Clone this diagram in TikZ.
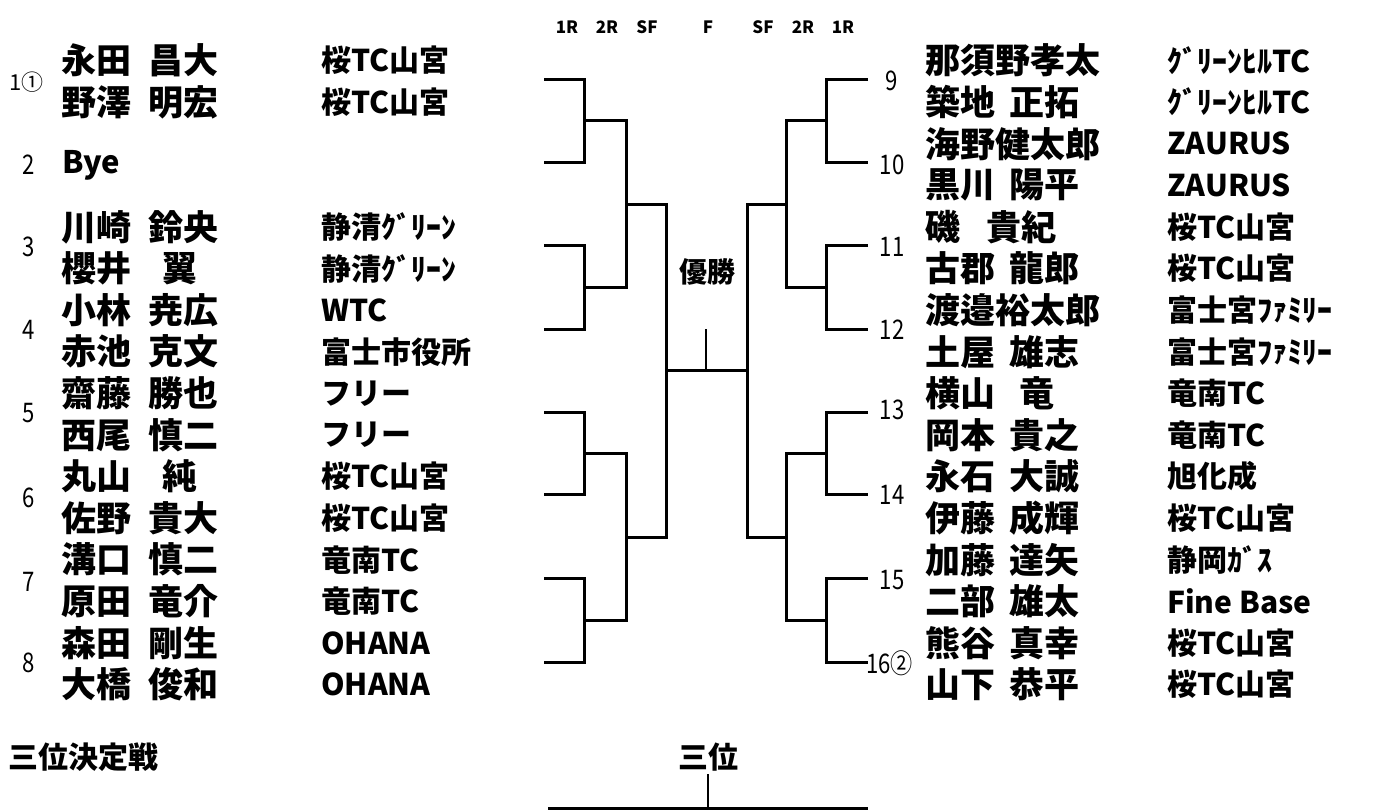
\documentclass[tikz,border=0pt]{standalone}
\usepackage{fontspec}
\newfontfamily\jp{Noto Sans CJK JP}
\begin{document}
\begin{tikzpicture}[x=1pt,y=-1pt,
  br/.style={line width=3pt, line join=miter},
  nameL/.style={anchor=west, inner sep=0pt, font=\jp\bfseries\fontsize{35}{40}\selectfont},
  club/.style={anchor=west, inner sep=0pt, font=\jp\bfseries\fontsize{30}{34}\selectfont},
  num/.style={inner sep=0pt, font=\jp\fontsize{27}{30}\selectfont},
  hdr/.style={inner sep=0pt, font=\jp\bfseries\fontsize{17}{19}\selectfont},
  ttl/.style={inner sep=0pt, font=\jp\bfseries\fontsize{30}{34}\selectfont}]
\fill[white] (0,0) rectangle (1375,811);
\useasboundingbox (0,0) rectangle (1375,811);

% round headers
\foreach \x/\t [count=\i] in {567/1R,607/2R,647/SF,708/F,763/SF,803/2R,843/1R}
  \node[hdr] (h\i) at (\x,27) {\t};

% left names and clubs
\foreach \j/\n/\c in {
  0/{永田\hspace{.5em}昌大}/{桜TC山宮},
  1/{野澤\hspace{.5em}明宏}/{桜TC山宮},
  4/{川崎\hspace{.5em}鈴央}/{静清ｸﾞﾘｰﾝ},
  5/{櫻井\hspace{.9em}翼}/{静清ｸﾞﾘｰﾝ},
  6/{小林\hspace{.5em}尭広}/{WTC},
  7/{赤池\hspace{.5em}克文}/{富士市役所},
  8/{齋藤\hspace{.5em}勝也}/{フリー},
  9/{西尾\hspace{.5em}慎二}/{フリー},
  10/{丸山\hspace{.9em}純}/{桜TC山宮},
  11/{佐野\hspace{.5em}貴大}/{桜TC山宮},
  12/{溝口\hspace{.5em}慎二}/{竜南TC},
  13/{原田\hspace{.5em}竜介}/{竜南TC},
  14/{森田\hspace{.5em}剛生}/{OHANA},
  15/{大橋\hspace{.5em}俊和}/{OHANA}}{
  \node[nameL] (nL\j) at (61,{60.5+41.6*\j}) {\n};
  \node[club] (cL\j) at (321,{60.5+41.6*\j}) {\c};
}
\node[nameL, font=\jp\bfseries\fontsize{31}{34}\selectfont] (bye) at (62,165) {Bye};

% right names and clubs
\foreach \j/\n/\c in {
  0/{那須野孝太}/{ｸﾞﾘｰﾝﾋﾙTC},
  1/{築地\hspace{.4em}正拓}/{ｸﾞﾘｰﾝﾋﾙTC},
  2/{海野健太郎}/{ZAURUS},
  3/{黒川\hspace{.4em}陽平}/{ZAURUS},
  4/{磯\hspace{.75em}貴紀}/{桜TC山宮},
  5/{古郡\hspace{.4em}龍郎}/{桜TC山宮},
  6/{渡邉裕太郎}/{富士宮ﾌｧﾐﾘｰ},
  7/{土屋\hspace{.4em}雄志}/{富士宮ﾌｧﾐﾘｰ},
  8/{横山\hspace{.7em}竜}/{竜南TC},
  9/{岡本\hspace{.4em}貴之}/{竜南TC},
  10/{永石\hspace{.4em}大誠}/{旭化成},
  11/{伊藤\hspace{.4em}成輝}/{桜TC山宮},
  12/{加藤\hspace{.4em}達矢}/{静岡ｶﾞｽ},
  13/{二部\hspace{.4em}雄太}/{Fine Base},
  14/{熊谷\hspace{.4em}真幸}/{桜TC山宮},
  15/{山下\hspace{.4em}恭平}/{桜TC山宮}}{
  \node[nameL] (nR\j) at (925,{60.5+41.6*\j}) {\n};
  \node[club] (cR\j) at (1167,{60.5+41.6*\j}) {\c};
}

% seed numbers
\node[num, anchor=west, font=\jp\fontsize{22}{24}\selectfont] (s1) at (9,82) {1①};
\foreach \k/\y in {2/165,3/247,4/330,5/413,6/498,7/582,8/663}
  \node[num] (s\k) at (29,\y) {\scalebox{0.82}[1]{\k}};
\foreach \k/\y in {9/81,10/165,11/247,12/330,13/410,14/495,15/580}
  \node[num] (s\k) at (892,\y) {\scalebox{0.82}[1]{\k}};
\node[num, anchor=west] (s16) at (866,663) {\scalebox{0.82}[1]{16②}};

% bracket coordinates, left
\foreach \k/\y in {1/79,2/162,3/245,4/329,5/412,6/494,7/578,8/662}
  \coordinate (e\k) at (544,\y);
\coordinate (w12) at (584,120.5);
\coordinate (w34) at (584,287);
\coordinate (w56) at (584,453);
\coordinate (w78) at (584,620);
\coordinate (wA) at (626,204);
\coordinate (wB) at (626,537);
\coordinate (wL) at (666,370.5);
% right
\foreach \k/\y in {9/79,10/162,11/245,12/329,13/412,14/494,15/578,16/662}
  \coordinate (e\k) at (868,\y);
\coordinate (w910) at (826,120.5);
\coordinate (w1112) at (826,287);
\coordinate (w1314) at (826,453);
\coordinate (w1516) at (826,620);
\coordinate (wC) at (786,204);
\coordinate (wD) at (786,537);
\coordinate (wR) at (747,370.5);
\coordinate (champ) at (705.5,329);

% left bracket
\draw[br] (e1) -| (w12) |- (e2);
\draw[br] (e3) -| (w34) |- (e4);
\draw[br] (e5) -| (w56) |- (e6);
\draw[br] (e7) -| (w78) |- (e8);
\draw[br] (w12) -| (wA) |- (w34);
\draw[br] (w56) -| (wB) |- (w78);
\draw[br] (wA) -| (wL) |- (wB);
% right bracket
\draw[br] (e9) -| (w910) |- (e10);
\draw[br] (e11) -| (w1112) |- (e12);
\draw[br] (e13) -| (w1314) |- (e14);
\draw[br] (e15) -| (w1516) |- (e16);
\draw[br] (w910) -| (wC) |- (w1112);
\draw[br] (w1314) -| (wD) |- (w1516);
\draw[br] (wC) -| (wR) |- (wD);
% final
\draw[br] (wL) -- (wR);
\draw[line width=2pt] (champ) -- (champ |- wL);
\node[inner sep=0pt, font=\jp\bfseries\fontsize{28}{30}\selectfont] (win) at (707,272) {優勝};

% third place
\node[ttl, anchor=west] (tp) at (8,757) {三位決定戦};
\node[ttl] (third) at (708,757) {三位};
\coordinate (tl) at (548,808);
\coordinate (tr) at (868,808);
\coordinate (ts) at (708,774);
\draw[line width=3pt] (tl) -- (tr);
\draw[line width=1.3pt] (ts) -- (ts |- tl);
\end{tikzpicture}
\end{document}
